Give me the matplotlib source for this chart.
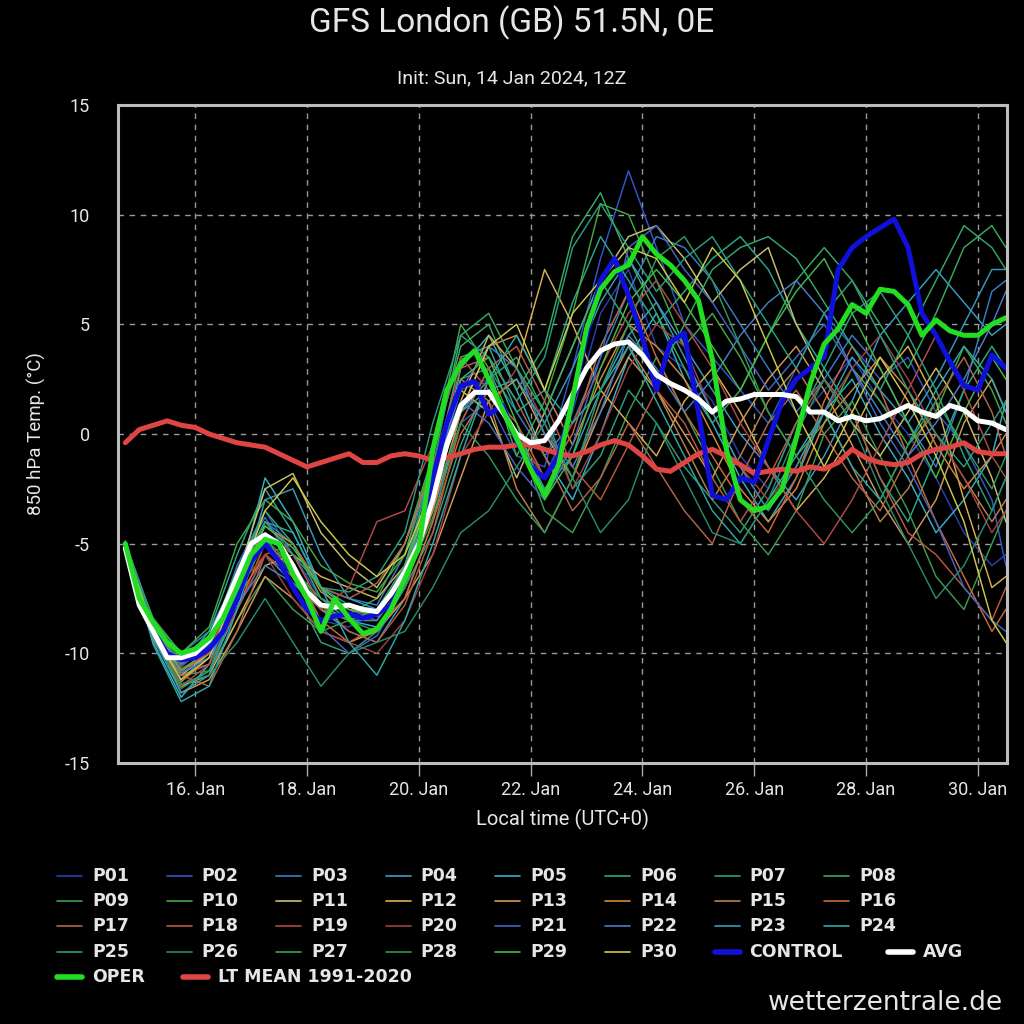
#!/usr/bin/env python3

import matplotlib
matplotlib.use('Agg')
import matplotlib.pyplot as plt
from matplotlib.lines import Line2D

# time axis in days of January 2024 (UTC)
t6 = [14.75 + 0.25 * i for i in range(64)]           # 6-hourly, +6h .. +384h
t12 = [14.75 + 0.5 * i for i in range(32)] + [30.5]  # members read every 12h

oper = [-5.0, -7.5, -8.6, -9.5, -10.0, -9.8, -9.3, -8.4, -7.0, -5.5,
        -4.8, -5.0, -6.4, -7.5, -9.0, -7.5, -8.4, -9.1, -8.9, -8.0,
        -6.6, -5.2, -0.7, 2.0, 3.2, 3.8, 2.5, 1.1, -0.2, -1.6,
        -2.8, -1.4, 1.6, 4.8, 6.6, 7.4, 7.7, 9.0, 8.2, 7.7,
        7.0, 6.1, 3.4, -0.7, -3.0, -3.5, -3.3, -2.5, -0.2, 2.3,
        4.1, 4.8, 5.9, 5.5, 6.6, 6.5, 5.9, 4.5, 5.2, 4.7,
        4.5, 4.5, 5.0, 5.3]
control = [-5.0, -7.6, -9.0, -10.0, -10.3, -10.2, -9.8, -9.0, -7.5, -5.8,
           -5.0, -5.8, -7.0, -8.0, -8.5, -8.3, -8.2, -8.4, -8.2, -7.8,
           -6.5, -5.0, -2.0, 0.5, 2.2, 2.4, 0.9, 1.3, -0.3, -1.5,
           -2.0, -1.0, 1.5, 4.5, 7.0, 8.0, 6.3, 4.4, 2.0, 4.2,
           4.6, 1.0, -2.8, -3.0, -2.0, -2.2, -0.3, 1.5, 2.5, 3.0,
           3.5, 7.5, 8.5, 9.0, 9.4, 9.8, 8.5, 5.5, 4.5, 3.3,
           2.2, 2.0, 3.6, 3.0]
avg = [-5.2, -7.8, -9.0, -10.2, -10.2, -10.0, -9.4, -8.0, -6.5, -5.0,
       -4.6, -5.0, -6.0, -7.2, -7.8, -7.9, -7.8, -8.0, -8.1, -7.3,
       -6.3, -5.0, -3.0, -0.5, 1.3, 1.9, 1.9, 1.0, 0.0, -0.4,
       -0.3, 0.6, 1.8, 3.0, 3.8, 4.1, 4.2, 3.6, 2.7, 2.3,
       2.0, 1.6, 1.0, 1.5, 1.6, 1.8, 1.8, 1.8, 1.7, 1.0,
       1.0, 0.6, 0.8, 0.6, 0.7, 1.0, 1.3, 1.0, 0.8, 1.3,
       1.1, 0.6, 0.5, 0.2]
lt_mean = [-0.4, 0.2, 0.4, 0.6, 0.4, 0.3, 0.0, -0.2, -0.4, -0.5,
           -0.6, -0.9, -1.2, -1.5, -1.3, -1.1, -0.9, -1.3, -1.3, -1.0,
           -0.9, -1.0, -1.2, -1.1, -0.9, -0.7, -0.6, -0.6, -0.5, -0.5,
           -0.7, -0.9, -1.0, -0.8, -0.5, -0.3, -0.5, -1.0, -1.6, -1.7,
           -1.3, -0.9, -0.7, -1.0, -1.4, -1.8, -1.7, -1.6, -1.7, -1.5,
           -1.6, -1.3, -0.7, -1.1, -1.3, -1.4, -1.3, -0.9, -0.7, -0.6,
           -0.4, -0.8, -0.9, -0.9]

p01 = [-5.0, -8.8, -10.8, -10.5, -7.5, -4.8, -6.5, -8.5, -8.8, -8.0, -6.0, -2.5, 2.0, 2.5, -0.5, -2.0, 1.0, 5.5, 7.5, 4.0, 3.0, 1.5, -1.0, -2.5, 0.5, 2.0, 3.5, 1.5, 0.0, -2.0, -4.5, -6.0, -5.5]
p02 = [-5.1, -9.2, -11.0, -9.8, -6.0, -3.5, -5.5, -7.5, -8.0, -8.5, -6.8, -3.5, 0.5, 1.5, -1.0, -1.5, 3.0, 8.0, 12.0, 8.5, 5.0, 3.5, 2.0, 0.5, 3.0, 5.5, 4.0, 2.5, 3.5, 1.0, -0.5, -3.0, -6.0]
p03 = [-4.9, -8.5, -10.0, -9.0, -6.5, -4.0, -5.0, -7.0, -7.5, -7.8, -5.5, -1.5, 2.5, 3.0, 1.0, -1.0, 0.5, 3.5, 6.5, 9.0, 8.5, 7.0, 5.0, 3.0, 1.0, 2.5, 4.5, 3.0, 0.5, -1.5, 2.0, 6.5, 7.0]
p04 = [-5.0, -9.0, -11.5, -10.8, -8.0, -5.5, -6.8, -8.0, -9.0, -9.5, -7.5, -4.0, 1.0, 2.5, 0.0, -2.5, -1.0, 2.0, 4.5, 6.0, 4.0, 2.0, 0.0, -1.5, -3.0, -1.0, 1.5, 4.5, 6.0, 7.5, 6.0, 4.5, 5.0]
p05 = [-5.2, -9.5, -12.0, -10.5, -7.0, -2.0, -4.0, -7.0, -8.5, -8.8, -7.0, -3.0, 3.0, 4.5, 2.0, -1.0, -3.0, 0.0, 3.5, 5.5, 2.5, 0.5, -2.0, -4.0, -2.0, 1.0, 2.5, 0.0, -2.0, -4.5, -3.0, -1.0, 1.5]
p06 = [-5.0, -8.7, -10.5, -9.0, -5.5, -2.5, -4.5, -7.0, -7.8, -8.0, -6.5, -2.0, 3.5, 4.0, 1.0, 2.0, 6.0, 9.0, 7.0, 5.0, 6.5, 8.0, 9.0, 7.5, 5.0, 3.0, 1.0, -2.0, -4.0, -1.0, 2.0, 4.0, 3.0]
p07 = [-5.1, -9.1, -11.2, -10.0, -7.2, -4.5, -7.0, -9.5, -10.0, -9.0, -7.0, -4.5, -0.5, 2.5, 3.5, 1.0, -2.5, -1.0, 2.0, 0.5, -1.5, -3.0, -4.5, -2.5, 0.5, 3.0, 5.5, 6.5, 4.5, 2.0, -1.0, -3.5, -2.0]
p08 = [-5.0, -8.6, -10.2, -9.2, -6.8, -5.0, -6.2, -7.5, -8.2, -7.5, -5.0, -1.0, 4.0, 5.0, 2.0, 4.0, 9.0, 11.0, 8.0, 5.5, 3.0, 0.5, 2.0, 4.5, 7.0, 8.5, 7.0, 5.0, 3.0, 5.5, 8.5, 9.5, 8.5]
p09 = [-4.9, -8.9, -11.0, -10.8, -8.5, -6.5, -8.0, -9.0, -8.5, -8.5, -6.8, -3.8, 0.5, 3.0, 0.0, -3.5, -4.5, -2.0, 1.0, 3.5, 1.0, -1.5, -4.0, -5.5, -3.5, 0.0, 1.5, -1.0, -3.5, -6.5, -8.0, -5.0, -3.5]
p10 = [-5.2, -8.4, -10.0, -8.8, -5.0, -3.0, -4.0, -6.0, -6.8, -7.2, -5.5, -1.0, 5.0, 3.0, -1.0, 1.5, 5.5, 10.5, 10.0, 7.0, 4.0, 5.5, 3.5, 1.0, -1.0, 0.5, 3.0, 1.5, -0.5, 1.0, 4.0, 2.0, 0.5]
p11 = [-5.0, -9.3, -11.0, -10.0, -6.5, -2.5, -1.8, -4.5, -6.0, -7.0, -5.0, -1.5, 2.0, 1.0, -2.0, 1.0, 4.0, 7.0, 9.0, 9.5, 8.0, 6.0, 7.5, 8.5, 5.0, 2.5, 0.5, -1.0, 1.0, 3.0, 1.0, -2.0, -4.0]
p12 = [-5.1, -8.8, -11.5, -11.0, -8.5, -6.0, -5.5, -6.5, -7.0, -7.5, -6.0, -2.5, 1.5, 4.5, 3.0, 7.5, 5.0, 2.0, 0.5, -1.0, 1.5, 3.0, 1.0, -1.5, -3.5, -2.0, 0.0, 2.5, 4.0, 1.5, -3.0, -7.0, -6.5]
p13 = [-5.0, -9.0, -11.8, -11.2, -9.0, -6.5, -7.5, -9.0, -9.5, -9.0, -7.5, -5.5, -2.0, 1.5, 2.5, 0.0, -2.0, 1.0, 3.5, 2.0, 0.0, -2.0, 0.5, 2.5, 4.0, 2.0, -0.5, -3.0, -5.0, -3.0, 0.5, 2.5, 1.0]
p14 = [-4.9, -8.7, -10.8, -10.0, -7.0, -4.2, -5.0, -7.2, -8.0, -8.3, -7.0, -3.5, 1.0, 4.0, 4.5, 2.0, -0.5, 2.5, 5.0, 4.0, 2.5, 0.0, -2.5, -4.0, -2.5, 0.5, 2.0, 3.5, 2.0, -0.5, -2.5, -1.0, 0.0]
p15 = [-5.1, -9.4, -11.3, -10.2, -7.5, -5.5, -6.5, -8.0, -8.5, -8.0, -6.5, -2.5, 2.5, 1.5, -2.5, -4.5, -2.0, 1.5, 4.0, 2.0, -0.5, -3.0, -1.0, 1.5, 3.0, 1.0, -1.5, -4.0, -2.5, 0.0, -2.0, -4.0, -3.0]
p16 = [-5.0, -9.1, -11.0, -10.5, -8.0, -5.0, -6.0, -8.5, -9.5, -8.8, -7.5, -4.0, 0.0, 2.0, 0.5, -2.0, 0.0, 4.0, 6.5, 3.5, 1.0, -1.0, -3.0, -4.5, -2.0, 1.5, 4.0, 2.0, -1.0, -4.0, -6.5, -9.0, -8.0]
p17 = [-5.2, -8.9, -11.0, -11.5, -9.0, -5.5, -5.0, -7.0, -7.5, -6.8, -5.0, -1.5, 3.0, 3.5, 1.5, -1.0, -3.5, -2.0, 0.5, -1.5, -3.5, -5.0, -2.0, 0.5, 2.0, 0.0, -2.0, -3.5, -1.0, 1.5, 3.5, 1.0, -1.0]
p18 = [-5.0, -8.6, -10.7, -10.0, -7.0, -4.5, -5.5, -7.8, -9.0, -9.5, -7.8, -4.5, 0.5, 3.0, 4.0, 1.5, -1.5, -3.0, -0.5, 2.0, 0.5, -2.0, -4.0, -2.0, 0.5, 2.5, 1.0, -2.0, -4.5, -5.5, -7.0, -8.5, -7.0]
p19 = [-5.1, -9.2, -11.5, -10.5, -8.0, -5.5, -6.5, -8.0, -7.0, -4.0, -3.5, -0.5, 3.5, 2.0, 0.0, -2.0, 0.5, 3.0, 5.5, 7.0, 5.0, 3.0, 0.5, -1.5, -3.5, -5.0, -3.0, -0.5, 2.0, 4.5, 2.0, -1.0, -2.0]
p20 = [-4.9, -8.8, -10.5, -9.8, -7.0, -5.5, -7.5, -9.0, -9.5, -10.0, -8.5, -5.5, -1.0, 1.0, 3.0, 0.5, -2.5, 0.0, 3.0, 5.0, 4.0, 1.0, -1.5, -3.0, -1.5, 1.0, 3.0, 4.5, 2.5, 0.0, -2.0, -4.5, -3.5]
p21 = [-5.0, -8.7, -10.6, -9.6, -6.0, -3.8, -6.0, -8.8, -10.0, -9.2, -7.0, -3.0, 1.5, 0.5, -1.5, -3.0, -0.5, 3.5, 8.5, 9.5, 7.5, 6.0, 4.0, 2.0, 3.5, 5.0, 3.0, 0.5, -1.5, -4.0, -7.0, -8.5, -9.0]
p22 = [-5.2, -9.0, -10.9, -10.2, -7.8, -6.0, -6.8, -7.8, -8.5, -8.5, -6.0, -2.0, 2.0, 4.0, 3.0, 0.0, -1.5, 1.0, 4.5, 3.0, 1.0, 2.5, 4.5, 6.0, 7.0, 5.5, 3.0, 1.0, -1.0, 0.5, 2.5, 5.0, 6.5]
p23 = [-5.0, -9.3, -11.8, -11.0, -7.5, -3.0, -2.5, -5.5, -7.5, -8.0, -6.5, -2.5, 1.0, 2.0, 2.5, 0.5, 3.0, 6.0, 8.0, 6.0, 3.5, 1.0, -1.5, -3.5, -1.5, 1.0, 3.5, 2.0, 0.5, 2.5, 5.0, 7.5, 7.5]
p24 = [-5.1, -9.6, -12.2, -11.5, -8.0, -4.0, -4.5, -7.0, -9.5, -11.0, -8.5, -5.0, -1.0, 2.5, 4.5, 2.0, 0.5, 2.0, 4.0, 1.5, -1.0, -3.5, -5.0, -3.0, -1.0, 1.0, -1.5, -3.0, -0.5, 2.0, 4.0, 2.5, 1.0]
p25 = [-5.0, -8.5, -10.4, -9.5, -6.5, -4.0, -5.5, -7.0, -7.2, -6.5, -4.5, 0.5, 4.5, 3.5, 1.5, 3.5, 8.5, 10.5, 8.5, 6.5, 8.0, 9.0, 7.0, 5.0, 3.0, 5.5, 7.0, 4.5, 2.0, 0.0, -1.5, 0.5, 1.5]
p26 = [-4.9, -9.0, -11.4, -11.0, -9.5, -7.5, -9.5, -11.5, -10.0, -9.5, -9.0, -7.0, -4.5, -3.5, -1.5, 0.5, -2.0, -4.5, -3.0, 0.5, -2.0, -4.5, -5.0, -3.0, 0.0, 2.5, 0.5, -2.5, -5.0, -7.5, -6.0, -3.5, -2.0]
p27 = [-5.1, -8.8, -10.5, -9.3, -6.2, -3.5, -5.0, -7.5, -8.5, -8.0, -6.0, -1.5, 4.5, 5.5, 3.0, 1.0, 4.0, 7.0, 5.0, 2.5, 5.0, 7.5, 8.5, 9.0, 8.0, 6.0, 4.0, 2.0, 4.5, 7.0, 9.5, 8.5, 7.5]
p28 = [-5.0, -9.2, -11.6, -10.8, -7.5, -4.8, -6.0, -7.8, -8.5, -9.0, -7.0, -3.0, 0.5, -1.0, -3.0, -4.5, -2.0, 2.0, 5.0, 8.0, 9.0, 7.0, 4.0, 1.0, -1.0, -3.0, -4.5, -3.0, -0.5, 1.5, -0.5, -2.5, -1.0]
p29 = [-5.2, -8.9, -10.8, -9.8, -6.5, -4.2, -5.2, -7.0, -8.0, -8.2, -6.2, -2.0, 2.5, 3.5, 0.5, -3.0, -1.0, 3.0, 6.0, 7.5, 6.0, 4.0, 2.0, 4.5, 6.5, 8.0, 5.5, 3.0, 0.5, -2.0, 1.0, 3.5, 2.5]
p30 = [-5.0, -9.1, -11.2, -10.2, -7.0, -3.5, -2.0, -4.0, -5.5, -6.5, -5.5, -2.5, 1.0, 4.0, 5.0, 2.0, 5.5, 7.0, 8.5, 8.0, 6.0, 8.5, 7.0, 4.0, 1.0, -1.5, 1.0, 3.5, 1.5, -1.0, -4.0, -8.5, -9.5]

members = [p01, p02, p03, p04, p05, p06, p07, p08, p09, p10,
           p11, p12, p13, p14, p15, p16, p17, p18, p19, p20,
           p21, p22, p23, p24, p25, p26, p27, p28, p29, p30]
member_names = ['P%02d' % (i + 1) for i in range(30)]
member_colors = ['#2a3fb0', '#3355cc', '#3a7cc8', '#3b9cc4', '#36b0c8',
                 '#2aa88a', '#2e9e78', '#3aa860', '#3c9a52', '#45a845',
                 '#c8c070', '#d8b050', '#d09a58', '#d8883a', '#b8804a',
                 '#c86a3a', '#b0664a', '#b85a40', '#b04a48', '#a04040',
                 '#4466c0', '#4a7ec0', '#3a98b8', '#2ea8a8', '#2a9c80',
                 '#2a8a6a', '#34a868', '#30985a', '#46b848', '#d0c848']

day_ticks = [16, 18, 20, 22, 24, 26, 28, 30]
day_labels = ['%d. Jan' % d for d in day_ticks]
y_ticks = [-15, -10, -5, 0, 5, 10, 15]

FG = '#e6e6e6'
NARROW = ['Roboto', 'DejaVu Sans']

# legend item left edges (px) - P items on a grid, the wide ones flow after
legend_x = [57 + c * 109.6 for c in range(8)] * 3 + [57 + c * 109.6 for c in range(7)] + [888, 57, 183]


def main():
    fig = plt.figure(figsize=(10.24, 10.24), dpi=100, facecolor='black')
    ax = fig.add_axes([118 / 1024, 1 - 763 / 1024, 889 / 1024, 658 / 1024])
    ax.set_facecolor('black')

    for vals, col in zip(members, member_colors):
        assert len(vals) == len(t12)
        ax.plot(t12, vals, color=col, lw=1.05, zorder=2)

    ax.plot(t6, lt_mean, color='#e04545', lw=3.6, zorder=3, solid_capstyle='round')
    ax.plot(t6, control, color='#1010dd', lw=3.6, zorder=4, solid_capstyle='round')
    ax.plot(t6, avg, color='white', lw=3.6, zorder=5, solid_capstyle='round')
    ax.plot(t6, oper, color='#22dd22', lw=3.6, zorder=6, solid_capstyle='round')

    ax.set_xlim(14.62, 30.52)
    ax.set_ylim(-15, 15)
    ax.set_xticks(day_ticks)
    ax.set_xticklabels(day_labels, family=NARROW, fontsize=13, color=FG)
    ax.set_yticks(y_ticks)
    ax.set_yticklabels([str(v) for v in y_ticks], family=NARROW, fontsize=13, color=FG)
    ax.tick_params(axis='x', length=9, width=1, color='#aaaaaa', pad=4, direction='out')
    ax.tick_params(axis='y', length=0, pad=20)
    ax.grid(True, color='#9a9a9a', lw=1.0, linestyle=(0, (4, 4)), zorder=1)
    for s in ax.spines.values():
        s.set_color('#bdbdbd')
        s.set_linewidth(2.2)
        s.set_zorder(7)

    ax.set_xlabel('Local time (UTC+0)', family=NARROW, fontsize=14.5, color=FG, labelpad=7)
    ax.set_ylabel('850 hPa Temp. (°C)', family=NARROW, fontsize=13.5, color=FG, labelpad=14)

    fig.text(0.5, 1 - 23 / 1024, 'GFS London (GB) 51.5N, 0E', ha='center', va='center',
             family=NARROW, fontsize=24, color=FG)
    fig.text(0.5, 1 - 78 / 1024, 'Init: Sun, 14 Jan 2024, 12Z', ha='center', va='center',
             family=NARROW, fontsize=14, color=FG)

    names = member_names + ['CONTROL', 'AVG', 'OPER', 'LT MEAN 1991-2020']
    cols = member_colors + ['#1010dd', 'white', '#22dd22', '#e04545']
    widths = [1.2] * 30 + [4.0] * 4
    for k, (name, col, w) in enumerate(zip(names, cols, widths)):
        r = min(k // 8, 3) if k < 32 else 4
        x0 = legend_x[k]
        y = 1 - (876 + r * 25.2) / 1024
        fig.add_artist(Line2D([x0 / 1024, (x0 + 25) / 1024], [y, y], color=col, lw=w,
                              solid_capstyle='round'))
        fig.text((x0 + 35) / 1024, y, name, ha='left', va='center', fontsize=12.5,
                 fontweight='bold', color=FG)

    fig.text(1003 / 1024, 1 - 1003 / 1024, 'wetterzentrale.de', ha='right', va='center',
             fontsize=19, color=FG)

    fig.savefig('out.png', dpi=100, facecolor='black')


if __name__ == "__main__":
    main()
